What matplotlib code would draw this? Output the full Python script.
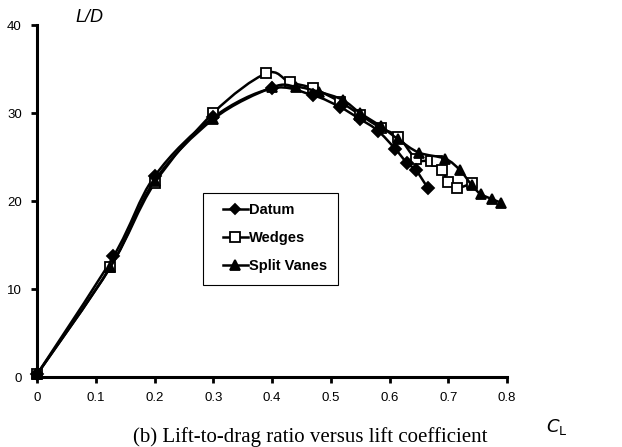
import numpy as np
import matplotlib
matplotlib.use('Agg')
import matplotlib.pyplot as plt
from matplotlib.path import Path
from matplotlib.patches import PathPatch, Rectangle
from matplotlib.lines import Line2D

# L/D versus CL for the three tip configurations
datum_cl = [0.0, 0.13, 0.2, 0.3, 0.4, 0.47, 0.515, 0.55, 0.58, 0.61, 0.63, 0.645, 0.665]
datum_ld = [0.3, 13.7, 22.8, 29.5, 32.8, 32.0, 30.7, 29.3, 28.0, 25.9, 24.3, 23.5, 21.5]

wedges_cl = [0.0, 0.125, 0.2, 0.3, 0.39, 0.43, 0.47, 0.515, 0.55, 0.585, 0.615, 0.645,
             0.67, 0.68, 0.69, 0.70, 0.715, 0.74]
wedges_ld = [0.3, 12.5, 22.0, 30.0, 34.5, 33.5, 32.8, 31.3, 29.8, 28.3, 27.3, 24.8,
             24.6, 24.6, 23.5, 22.2, 21.5, 22.0]

vanes_cl = [0.0, 0.125, 0.2, 0.3, 0.4, 0.44, 0.48, 0.52, 0.55, 0.585, 0.615, 0.65,
            0.695, 0.72, 0.74, 0.755, 0.775, 0.79]
vanes_ld = [0.3, 12.5, 22.3, 29.3, 32.9, 33.0, 32.4, 31.5, 30.0, 28.5, 27.0, 25.5,
            24.8, 23.5, 21.8, 20.8, 20.2, 19.8]

x_ticks = [0, 0.1, 0.2, 0.3, 0.4, 0.5, 0.6, 0.7, 0.8]
x_labels = ['0', '0.1', '0.2', '0.3', '0.4', '0.5', '0.6', '0.7', '0.8']
y_ticks = [0, 10, 20, 30, 40]


def smooth_path(xs, ys):
    # Catmull-Rom style bezier through the points, like Excel's smoothed lines
    p = np.column_stack([xs, ys])
    n = len(p)
    verts = [p[0]]
    codes = [Path.MOVETO]
    for i in range(n - 1):
        p0 = p[i - 1] if i > 0 else p[i]
        p3 = p[i + 2] if i + 2 < n else p[i + 1]
        c1 = p[i] + (p[i + 1] - p0) / 6
        c2 = p[i + 1] - (p3 - p[i]) / 6
        verts += [c1, c2, p[i + 1]]
        codes += [Path.CURVE4] * 3
    return Path(verts, codes)


plt.rcParams['font.family'] = ['Liberation Sans', 'DejaVu Sans']

W, H = 622, 447
fig = plt.figure(figsize=(W / 100, H / 100), dpi=100)
ax = fig.add_axes([37 / W, 1 - 377 / H, 470 / W, 352 / H])

series = [
    (datum_cl, datum_ld, 'D', 6, 'black', 'Datum', 4),
    (wedges_cl, wedges_ld, 's', 7.5, 'white', 'Wedges', 3),
    (vanes_cl, vanes_ld, '^', 7, 'black', 'Split Vanes', 5),
]
handles = []
for xs, ys, mk, ms, fc, name, z in series:
    ax.add_patch(PathPatch(smooth_path(xs, ys), fill=False, edgecolor='black',
                           lw=1.8, zorder=z - 1, clip_on=False))
    ax.plot(xs, ys, ls='none', marker=mk, ms=ms, mfc=fc, mec='black', mew=1.3,
            zorder=z, clip_on=False)
    handles.append(Line2D([], [], color='black', lw=1.8, marker=mk, ms=ms - 0.5,
                          mfc=fc, mec='black', mew=1.3, label=name))

ax.set_xlim(0, 0.8)
ax.set_ylim(0, 40)
ax.set_xticks(x_ticks)
ax.set_xticklabels(x_labels)
ax.set_yticks(y_ticks)
for s in ['top', 'right']:
    ax.spines[s].set_visible(False)
for s in ['left', 'bottom']:
    ax.spines[s].set_linewidth(2.2)
ax.tick_params(direction='out', length=4, width=2, labelsize=9.5, pad=7)

# legend frame drawn by hand so the padding matches
fig.patches.append(Rectangle((203 / W, 1 - 285 / H), 135 / W, 92 / H,
                             transform=fig.transFigure, fill=False,
                             edgecolor='black', lw=0.8))
leg = fig.legend(handles=handles, loc='upper left',
                 bbox_to_anchor=(223 / W, 1 - 203 / H), frameon=False,
                 fontsize=10.5, handlelength=1.7, labelspacing=0.95, borderpad=0,
                 handletextpad=0.1, borderaxespad=0)
for t in leg.get_texts():
    t.set_fontweight('bold')

fig.text(75 / W, 1 - 17 / H, 'L/D', fontsize=13, style='italic', va='center', ha='left')
fig.text(546 / W, 1 - 427 / H, r'$\mathit{C}_{\mathrm{L}}$', fontsize=13,
         va='center', ha='left')
fig.text(310 / W, 1 - 427 / H, '(b) Lift-to-drag ratio versus lift coefficient',
         family='Liberation Serif', fontsize=15, ha='center', va='top')

fig.savefig('out.png', dpi=100)
